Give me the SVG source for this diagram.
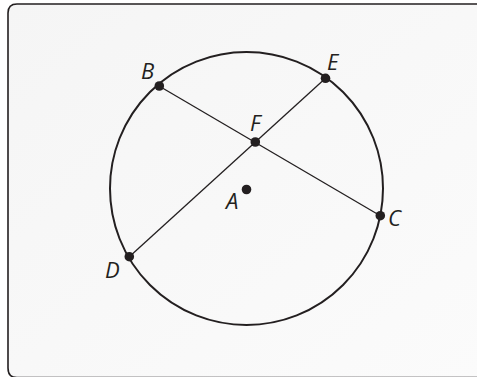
<svg xmlns="http://www.w3.org/2000/svg" width="477" height="377" viewBox="0 0 477 377">
  <defs>
    <linearGradient id="bg" x1="0" y1="0" x2="1" y2="1">
      <stop offset="0" stop-color="#f5f5f5"/>
      <stop offset="1" stop-color="#fbfbfb"/>
    </linearGradient>
    <style>
      .lbl { font-family: "Open Sans", "Liberation Sans", sans-serif; font-style: italic; font-size: 22px; fill: #231f20; }
      .pt { fill: #231f20; }
      .chord { stroke: #231f20; stroke-width: 1.3; fill: none; }
    </style>
  </defs>
  <rect width="477" height="377" fill="#ffffff"/>
  <path d="M 478 4 L 17 4 Q 8 4 8 13 L 8 368 Q 8 377.6 17 377.6 L 478 377.6" fill="url(#bg)" stroke="#231f20" stroke-width="1.6"/>
  <g id="circle">
    <circle cx="246.5" cy="188.5" r="136.5" fill="none" stroke="#231f20" stroke-width="2"/>
  </g>
  <g id="connectors">
    <line class="chord" x1="159" y1="86" x2="380.3" y2="215.7"/>
    <line class="chord" x1="129.3" y1="256.7" x2="325.5" y2="78.3"/>
  </g>
  <g id="node-A"><circle class="pt" cx="246.5" cy="189.5" r="4.8"/><text class="lbl" x="226" y="209">A</text></g>
  <g id="node-B"><circle class="pt" cx="159.3" cy="86" r="4.8"/><text class="lbl" x="141" y="79">B</text></g>
  <g id="node-C"><circle class="pt" cx="380.3" cy="215.7" r="4.8"/><text class="lbl" x="388" y="226">C</text></g>
  <g id="node-D"><circle class="pt" cx="129.3" cy="256.7" r="4.8"/><text class="lbl" x="105" y="278">D</text></g>
  <g id="node-E"><circle class="pt" cx="325.5" cy="78.3" r="4.8"/><text class="lbl" x="327" y="70">E</text></g>
  <g id="node-F"><circle class="pt" cx="255.3" cy="142" r="4.8"/><text class="lbl" x="250" y="131">F</text></g>
</svg>
